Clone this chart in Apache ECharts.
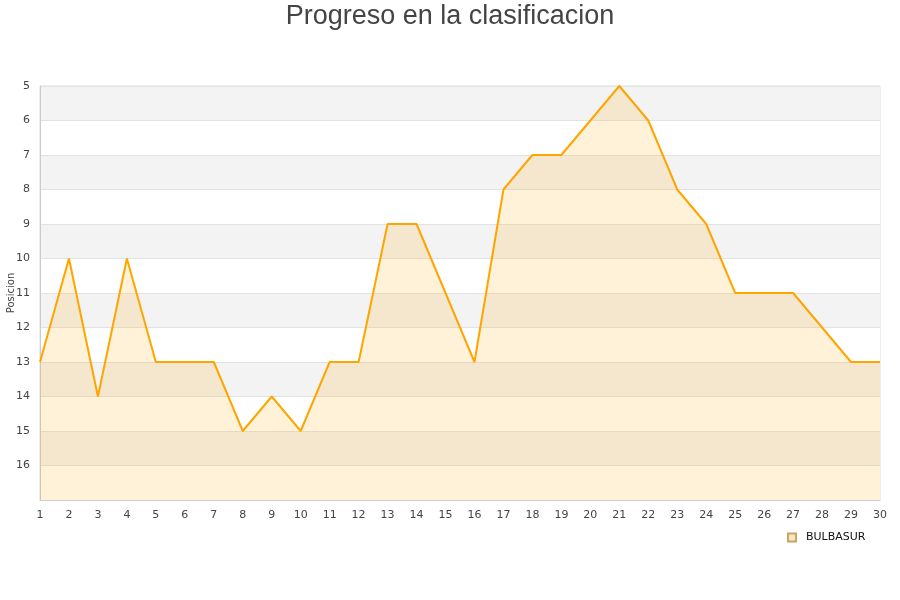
<!DOCTYPE html>
<html>
<head>
<meta charset="utf-8">
<script src="https://cdn.jsdelivr.net/npm/echarts@6/dist/echarts.min.js"></script>
<style>html,body{margin:0;padding:0;background:#fff}#c{width:900px;height:600px}</style>
</head>
<body>
<div id="c"></div>
<script>
var jornadas = ['1','2','3','4','5','6','7','8','9','10','11','12','13','14','15','16','17','18','19','20','21','22','23','24','25','26','27','28','29','30'];
var posiciones = [13,10,14,10,13,13,13,15,14,15,13,13,9,9,11,13,8,7,7,6,5,6,8,9,11,11,11,12,13,13];
var seriesName = 'BULBASUR';
var chartTitle = 'Progreso en la clasificacion';
var yName = 'Posicion';

var chart = echarts.init(document.getElementById('c'));
chart.setOption({
  animation: false,
  title: {
    text: chartTitle, left: 'center', top: -2,
    textStyle: {fontFamily: 'Liberation Sans, Arial, sans-serif', fontSize: 27, fontWeight: 'normal', color: '#444'}
  },
  legend: {
    data: [seriesName], left: 782, top: 527, itemWidth: 8, itemHeight: 8, itemGap: 6,
    icon: 'rect',
    textStyle: {fontFamily: 'DejaVu Sans, sans-serif', fontSize: 11, color: '#111', padding: [0, 0, 0, 5]}
  },
  grid: {left: 40, right: 20, top: 86, bottom: 100, containLabel: false, outerBoundsMode: 'none', show: true, borderColor: '#ddd', borderWidth: 1, backgroundColor: 'transparent'},
  xAxis: {
    type: 'category', data: jornadas, boundaryGap: false,
    axisLine: {lineStyle: {color: '#ccc'}}, axisTick: {show: false},
    axisLabel: {fontFamily: 'DejaVu Sans, sans-serif', fontSize: 11, color: '#444', margin: 10, interval: 0},
    splitLine: {show: false}
  },
  yAxis: {
    type: 'value', inverse: true, min: 5, max: 17, interval: 1,
    name: yName, nameLocation: 'middle', nameGap: 24, nameRotate: 90, nameMoveOverlap: false,
    nameTextStyle: {fontFamily: 'DejaVu Sans, sans-serif', fontSize: 10, color: '#444'},
    axisLine: {show: true, lineStyle: {color: '#ccc'}}, axisTick: {show: false},
    axisLabel: {fontFamily: 'DejaVu Sans, sans-serif', fontSize: 11, color: '#444', margin: 10,
      formatter: function(v){ return v === 17 ? '' : String(v); }},
    splitLine: {show: true, lineStyle: {color: '#e2e2e2'}},
    splitArea: {show: true, areaStyle: {color: ['#f3f3f3', '#ffffff']}}
  },
  series: [{
    name: seriesName, type: 'line', data: posiciones,
    showSymbol: false, symbol: 'none',
    lineStyle: {color: '#ffa500', width: 2},
    itemStyle: {color: '#ffe8c0', borderColor: '#c9a36a', borderWidth: 1},
    areaStyle: {color: 'rgba(255,170,0,0.21)', origin: 'end'}
  }]
});
</script>
</body>
</html>
